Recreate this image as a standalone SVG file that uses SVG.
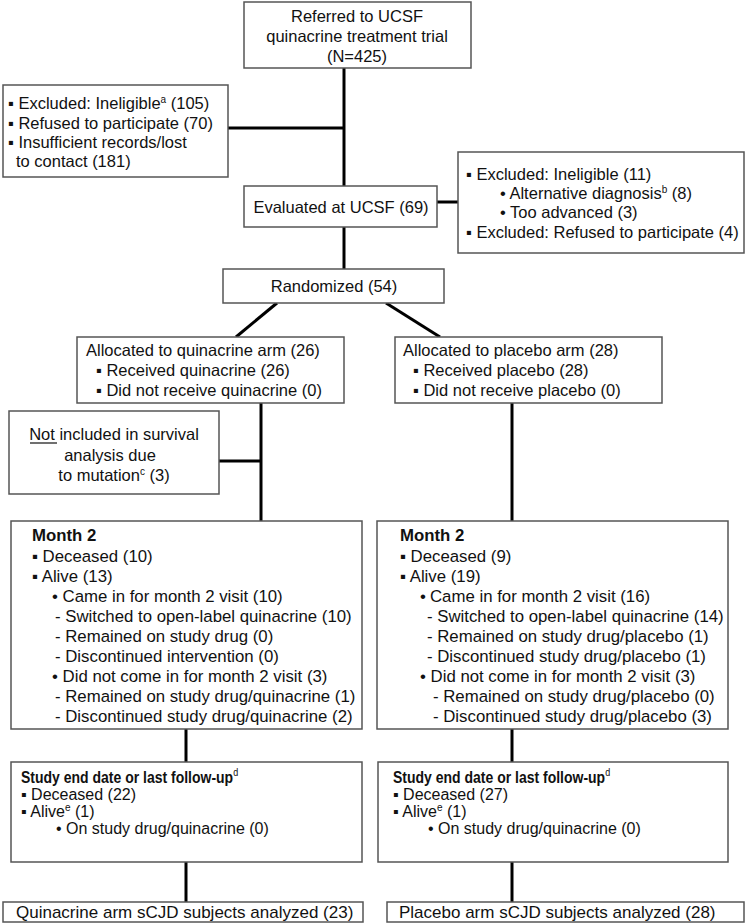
<svg xmlns="http://www.w3.org/2000/svg" width="747" height="923" viewBox="0 0 747 923">
<style>
.box{fill:#fff;stroke:#555;stroke-width:1.5}
.t{font-family:"Liberation Sans",Arial,sans-serif;font-size:16.5px;fill:#111}
.m{font-size:16.8px}
.s{font-size:16px}
.st{font-size:14px;font-weight:bold}
.f{font-size:17px}
.c{text-anchor:middle}
.b{font-weight:bold}
.sup{font-size:10px;font-weight:normal}
.sup2{font-size:9px;font-weight:normal}
.conn{stroke:#000;stroke-width:3;fill:none}
</style>
<rect width="747" height="923" fill="#fff"/>
<g id="connectors">
<line class="conn" x1="344" y1="68" x2="344" y2="186"/>
<line class="conn" x1="228" y1="128" x2="344" y2="128"/>
<line class="conn" x1="437" y1="202" x2="458" y2="202"/>
<line class="conn" x1="344" y1="227" x2="344" y2="269"/>
<line class="conn" x1="277" y1="303" x2="236" y2="337"/>
<line class="conn" x1="386" y1="303" x2="440" y2="337"/>
<line class="conn" x1="261" y1="403" x2="261" y2="521"/>
<line class="conn" x1="219" y1="461" x2="261" y2="461"/>
<line class="conn" x1="512" y1="403" x2="512" y2="521"/>
<line class="conn" x1="186" y1="729" x2="186" y2="762"/>
<line class="conn" x1="512" y1="729" x2="512" y2="762"/>
<line class="conn" x1="186" y1="862" x2="186" y2="902"/>
<line class="conn" x1="512" y1="862" x2="512" y2="902"/>
</g>
<g id="referred">
<rect class="box" x="244" y="2" width="227" height="66"/>
<text class="t c" x="357" y="22">Referred to UCSF</text>
<text class="t c" x="357" y="42">quinacrine treatment trial</text>
<text class="t c" x="357" y="62">(N=425)</text>
</g>
<g id="excluded1">
<rect class="box" x="3" y="85" width="225" height="92"/>
<text class="t" x="8" y="109">▪ Excluded: Ineligible<tspan class="sup" dy="-6">a</tspan><tspan dy="6"> (105)</tspan></text>
<text class="t" x="8" y="129">▪ Refused to participate (70)</text>
<text class="t" x="8" y="148">▪ Insufficient records/lost</text>
<text class="t" x="16" y="167">to contact (181)</text>
</g>
<g id="evaluated">
<rect class="box" x="244" y="186" width="193" height="41"/>
<text class="t c" x="341" y="213">Evaluated at UCSF (69)</text>
</g>
<g id="excluded2">
<rect class="box" x="458" y="152" width="286" height="101"/>
<text class="t" x="466" y="180">▪ Excluded: Ineligible (11)</text>
<text class="t" x="500" y="199">• Alternative diagnosis<tspan class="sup" dy="-6">b</tspan><tspan dy="6"> (8)</tspan></text>
<text class="t" x="500" y="218">• Too advanced (3)</text>
<text class="t" x="466" y="238">▪ Excluded: Refused to participate (4)</text>
</g>
<g id="randomized">
<rect class="box" x="223" y="269" width="221" height="34"/>
<text class="t c" x="334" y="292">Randomized (54)</text>
</g>
<g id="alloc-quinacrine">
<rect class="box" x="77" y="337" width="267" height="66"/>
<text class="t" x="86" y="356">Allocated to quinacrine arm (26)</text>
<text class="t" x="96" y="376">▪ Received quinacrine (26)</text>
<text class="t" x="96" y="396">▪ Did not receive quinacrine (0)</text>
</g>
<g id="alloc-placebo">
<rect class="box" x="395" y="337" width="267" height="66"/>
<text class="t" x="403" y="356">Allocated to placebo arm (28)</text>
<text class="t" x="413" y="376">▪ Received placebo (28)</text>
<text class="t" x="413" y="396">▪ Did not receive placebo (0)</text>
</g>
<g id="not-included">
<rect class="box" x="9" y="411" width="210" height="83"/>
<text class="t c" x="114" y="440">Not included in survival</text>
<line x1="30" y1="443" x2="57" y2="443" stroke="#111" stroke-width="1.2"/>
<text class="t c" x="110" y="461">analysis due</text>
<text class="t c" x="114" y="481">to mutation<tspan class="sup" dy="-6">c</tspan><tspan dy="6"> (3)</tspan></text>
</g>
<g id="month2-quinacrine">
<rect class="box" x="11" y="521" width="351" height="208"/>
<text class="t m b" x="32" y="541">Month 2</text>
<text class="t m" x="32" y="562">▪ Deceased (10)</text>
<text class="t m" x="32" y="582">▪ Alive (13)</text>
<text class="t m" x="52" y="602">• Came in for month 2 visit (10)</text>
<text class="t m" x="55" y="622">- Switched to open-label quinacrine (10)</text>
<text class="t m" x="55" y="642">- Remained on study drug (0)</text>
<text class="t m" x="55" y="662">- Discontinued intervention (0)</text>
<text class="t m" x="52" y="682">• Did not come in for month 2 visit (3)</text>
<text class="t m" x="55" y="702">- Remained on study drug/quinacrine (1)</text>
<text class="t m" x="55" y="722">- Discontinued study drug/quinacrine (2)</text>
</g>
<g id="month2-placebo">
<rect class="box" x="377" y="521" width="351" height="208"/>
<text class="t m b" x="400" y="541">Month 2</text>
<text class="t m" x="400" y="562">▪ Deceased (9)</text>
<text class="t m" x="400" y="582">▪ Alive (19)</text>
<text class="t m" x="420" y="602">•<tspan x="430">Came in for month 2 visit (16)</tspan></text>
<text class="t m" x="427" y="622">- Switched to open-label quinacrine (14)</text>
<text class="t m" x="427" y="642">- Remained on study drug/placebo (1)</text>
<text class="t m" x="427" y="662">- Discontinued study drug/placebo (1)</text>
<text class="t m" x="420" y="682">• Did not come in for month 2 visit (3)</text>
<text class="t m" x="433" y="702">- Remained on study drug/placebo (0)</text>
<text class="t m" x="433" y="722">- Discontinued study drug/placebo (3)</text>
</g>
<g id="end-quinacrine">
<rect class="box" x="11" y="762" width="351" height="100"/>
<text class="t st" transform="translate(21,783) scale(1,1.14)" x="0" y="0">Study end date or last follow-up<tspan class="sup2" dy="-6">d</tspan></text>
<text class="t s" x="21" y="800">▪ Deceased (22)</text>
<text class="t s" x="21" y="817">▪ Alive<tspan class="sup" dy="-6">e</tspan><tspan dy="6"> (1)</tspan></text>
<text class="t s" x="56" y="834">• On study drug/quinacrine (0)</text>
</g>
<g id="end-placebo">
<rect class="box" x="378" y="762" width="350" height="100"/>
<text class="t st" transform="translate(393,783) scale(1,1.14)" x="0" y="0">Study end date or last follow-up<tspan class="sup2" dy="-6">d</tspan></text>
<text class="t s" x="393" y="800">▪ Deceased (27)</text>
<text class="t s" x="393" y="817">▪ Alive<tspan class="sup" dy="-6">e</tspan><tspan dy="6"> (1)</tspan></text>
<text class="t s" x="428" y="834">• On study drug/quinacrine (0)</text>
</g>
<g id="analyzed-quinacrine">
<rect class="box" x="3" y="902" width="360" height="20"/>
<text class="t f" x="16" y="918">Quinacrine arm sCJD subjects analyzed (23)</text>
</g>
<g id="analyzed-placebo">
<rect class="box" x="387" y="902" width="357" height="20"/>
<text class="t f" x="399" y="918">Placebo arm sCJD subjects analyzed (28)</text>
</g>
</svg>
